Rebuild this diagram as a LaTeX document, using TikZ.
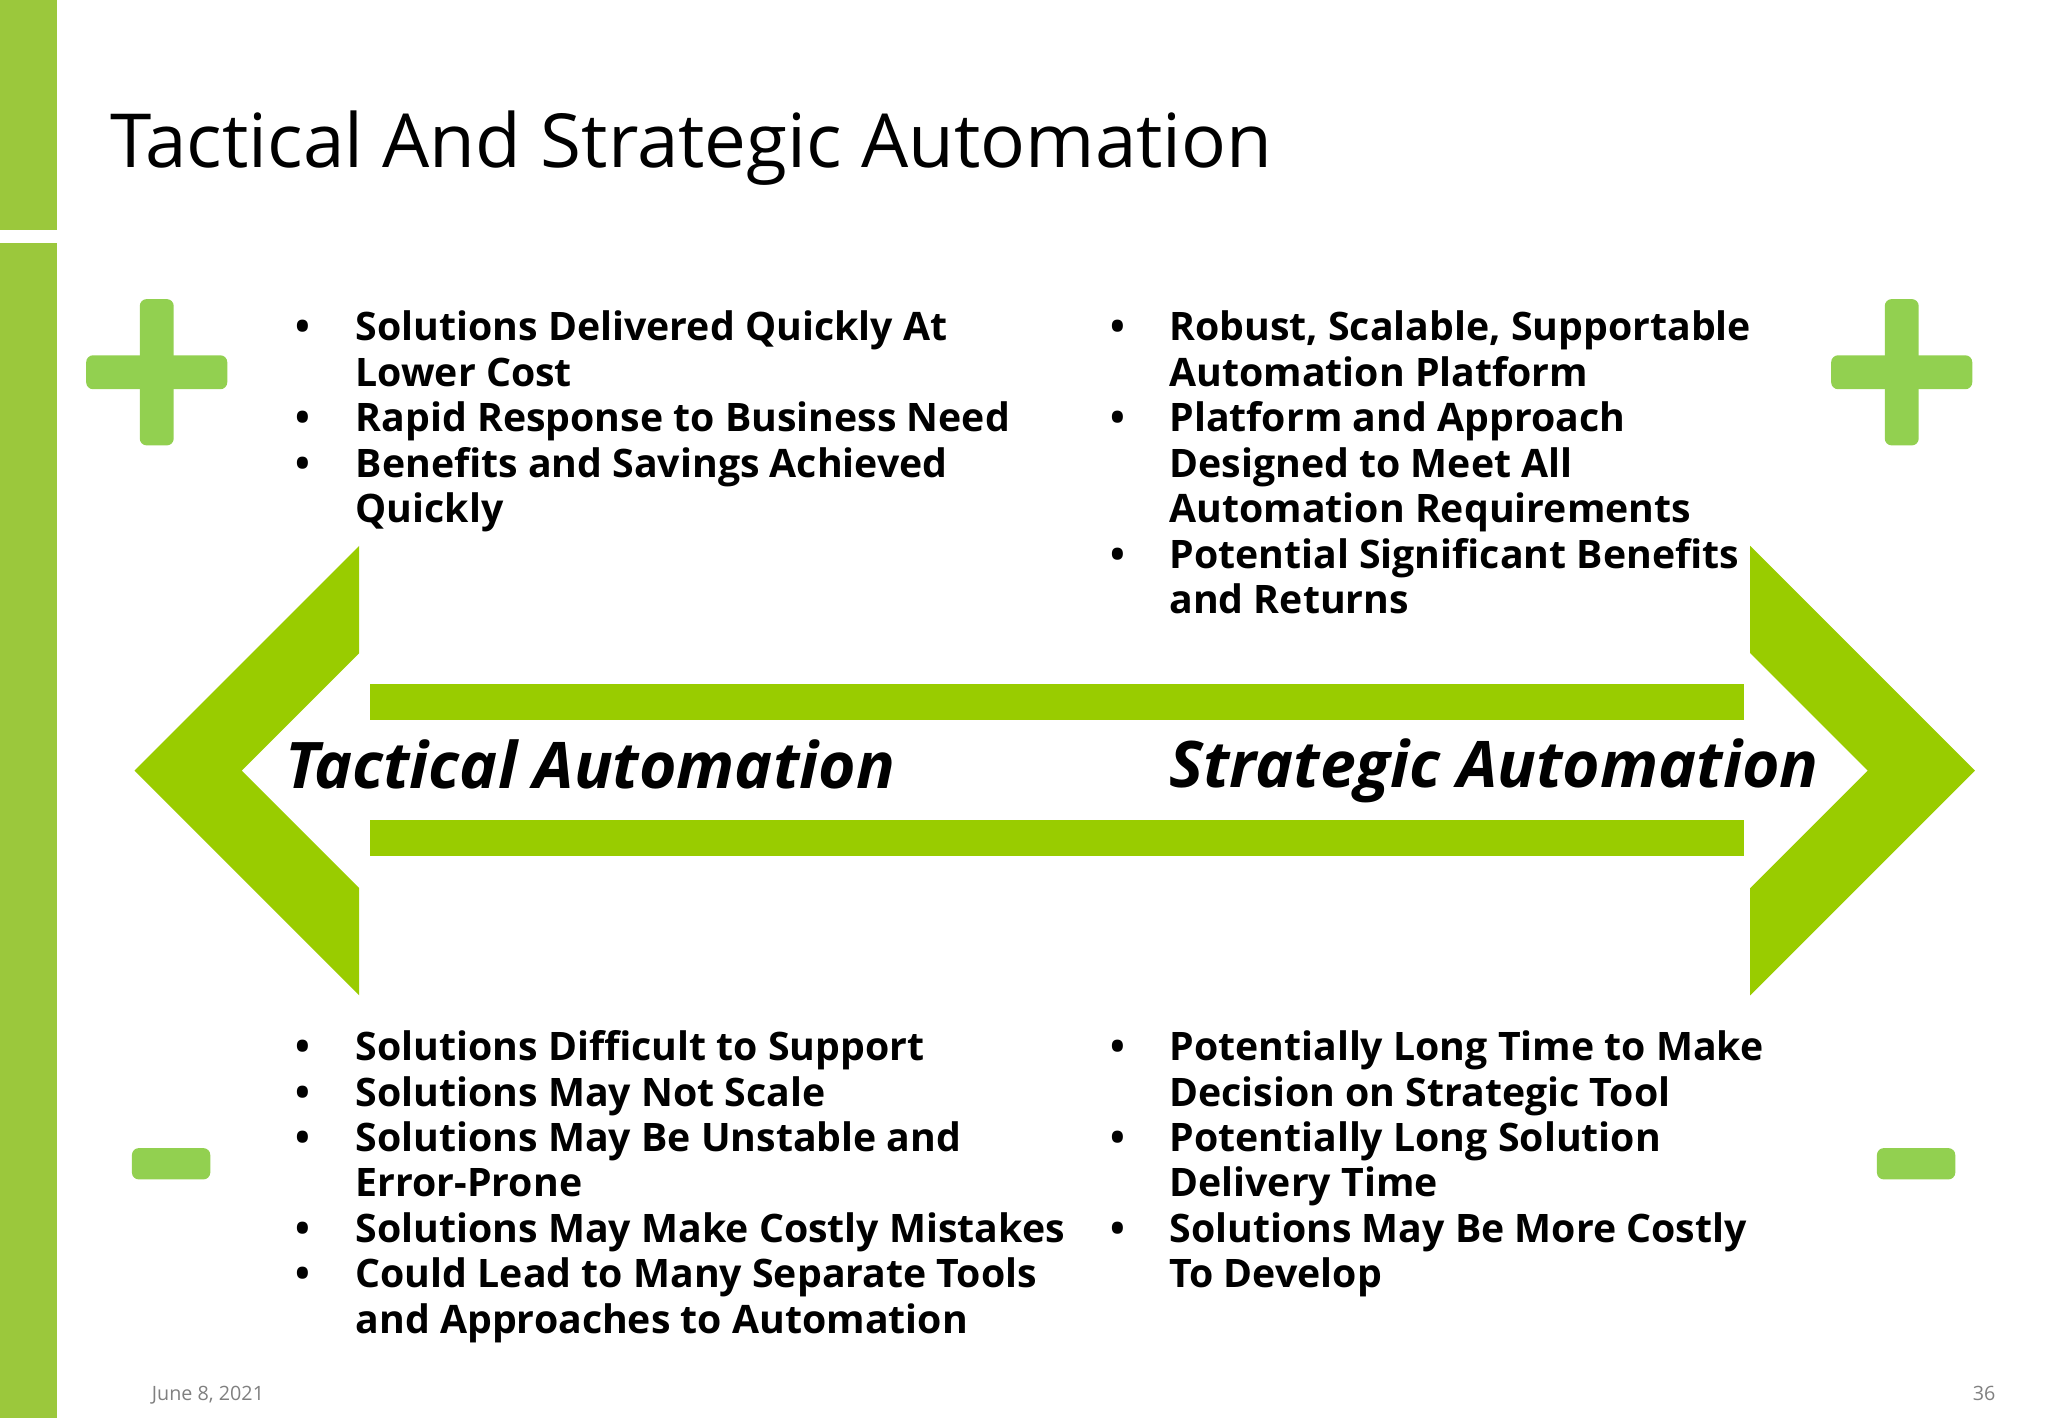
\documentclass[tikz,border=0pt]{standalone}
\usepackage{fontspec}
\setmainfont{Open Sans}
\usepackage{array}
\definecolor{sidebar}{RGB}{155,200,60}
\definecolor{arrowgreen}{RGB}{153,204,0}
\definecolor{signgreen}{RGB}{146,208,80}
\tikzset{
  lst/.style={anchor=base west, inner sep=0pt, font=\fontsize{17.1}{19.8}\selectfont\bfseries},
  big/.style={anchor=base west, inner sep=0pt, font=\fontsize{28}{32}\selectfont\bfseries\itshape},
  foot/.style={inner sep=0pt, text=gray, font=\fontsize{8.6}{10}\selectfont}
}
\newcommand{\bl}[1]{\begin{tabular}[t]{@{}p{#1}@{}l@{}}}
\begin{document}
\begin{tikzpicture}[x=0.02cm,y=-0.02cm]
\useasboundingbox (0,0) rectangle (1568,1086);
\fill[sidebar] (0,0) rectangle (44,176);
\fill[sidebar] (0,186) rectangle (44,1086);
\node[anchor=base west, inner sep=0pt, font=\fontsize{32.5}{40}\selectfont] (title) at (84,128) {Tactical And Strategic Automation};
% chevrons
\fill[arrowgreen] (275,418) -- (103,590) -- (275,762) -- (275,680) -- (185,590) -- (275,500) -- cycle;
\fill[arrowgreen] (1340,418) -- (1512,590) -- (1340,762) -- (1340,680) -- (1430,590) -- (1340,500) -- cycle;
\fill[arrowgreen] (283,524) rectangle (1335,551);
\fill[arrowgreen] (283,628) rectangle (1335,655);
% plus / minus
\foreach \cx in {120,1456}{
  \fill[signgreen, rounded corners=3pt] (\cx-13,229) rectangle (\cx+13,341);
  \fill[signgreen, rounded corners=3pt] (\cx-54,272) rectangle (\cx+54,298);
}
\fill[signgreen, rounded corners=3pt] (101,879) rectangle (161,903);
\fill[signgreen, rounded corners=3pt] (1437,879) rectangle (1497,903);
\node[big] (tac) at (218,604) {Tactical Automation};
\node[big] (str) at (895,603) {Strategic Automation};
\node[lst] (tl) at (226,261) {\bl{0.92cm}
\textbullet & Solutions Delivered Quickly At\\
 & Lower Cost\\
\textbullet & Rapid Response to Business Need\\
\textbullet & Benefits and Savings Achieved\\
 & Quickly
\end{tabular}};
\node[lst] (tr) at (850,261) {\bl{0.9cm}
\textbullet & Robust, Scalable, Supportable\\
 & Automation Platform\\
\textbullet & Platform and Approach\\
 & Designed to Meet All\\
 & Automation Requirements\\
\textbullet & Potential Significant Benefits\\
 & and Returns
\end{tabular}};
\node[lst] (bl) at (226,812) {\bl{0.92cm}
\textbullet & Solutions Difficult to Support\\
\textbullet & Solutions May Not Scale\\
\textbullet & Solutions May Be Unstable and\\
 & Error-Prone\\
\textbullet & Solutions May Make Costly Mistakes\\
\textbullet & Could Lead to Many Separate Tools\\
 & and Approaches to Automation
\end{tabular}};
\node[lst] (br) at (850,812) {\bl{0.9cm}
\textbullet & Potentially Long Time to Make\\
 & Decision on Strategic Tool\\
\textbullet & Potentially Long Solution\\
 & Delivery Time\\
\textbullet & Solutions May Be More Costly\\
 & To Develop
\end{tabular}};
\node[foot, anchor=base west] (date) at (116,1072) {June 8, 2021};
\node[foot, anchor=base east] (pg) at (1528,1072) {36};
\end{tikzpicture}
\end{document}
